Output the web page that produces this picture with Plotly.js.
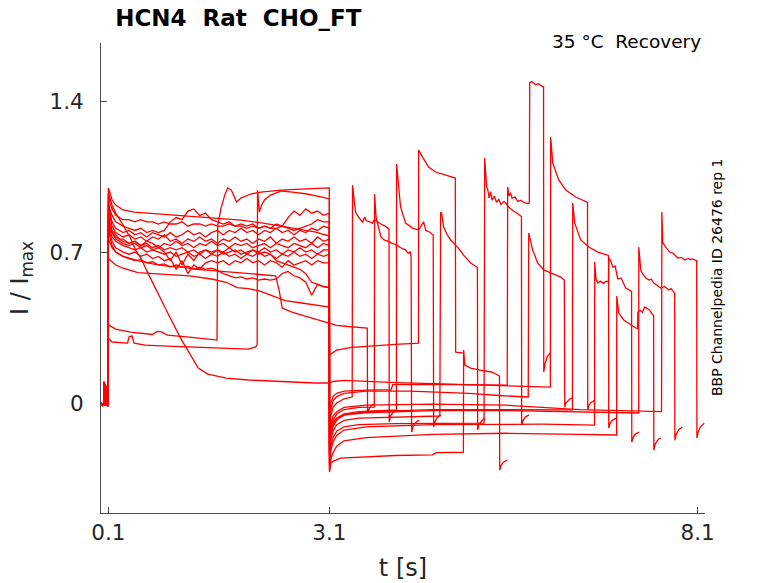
<!DOCTYPE html>
<html>
<head>
<meta charset="utf-8">
<script src="https://cdn.plot.ly/plotly-3.0.1.min.js"></script>
<style>
  html, body { margin: 0; padding: 0; background: #fff; }
  #chart { width: 778px; height: 583px; }
</style>
</head>
<body>
<div id="chart"></div>
<script>
// ---------- tick labels ----------
const xTickVals = [0.1, 3.1, 8.1];
const xTickText = ['0.1', '3.1', '8.1'];
const yTickVals = [0, 0.7, 1.4];
const yTickText = ['0', '0.7', '1.4'];

// ---------- holding segment before the first step ----------
const preT = [0, 0.02, 0.035, 0.04, 0.05, 0.055, 0.065, 0.07, 0.08, 0.098];
const preFlat = [0, -0.01, 0, -0.005, 0, -0.01, 0, -0.005, -0.01, -0.01];
const preSpike = [0, -0.01, 0, 0.1, -0.01, 0.09, -0.01, 0.08, -0.01, -0.015];

// ---------- first pulse (0.1 - 3.1 s), shared time grid ----------
const p1T = [0.1, 0.12, 0.15, 0.2, 0.25, 0.3, 0.38, 0.46, 0.54, 0.62, 0.7, 0.78, 0.86, 0.94, 1.02,
  1.1, 1.18, 1.26, 1.34, 1.42, 1.5, 1.58, 1.66, 1.74, 1.82, 1.9, 1.98, 2.06, 2.14, 2.22, 2.3, 2.38,
  2.46, 2.54, 2.62, 2.7, 2.78, 2.86, 2.94, 3.02, 3.1];
const p1G = [0.93, 0.90, 0.87, 0.84, 0.83, 0.82, 0.81, 0.80, 0.81, 0.79, 0.80, 0.79, 0.80, 0.84, 0.86,
  0.85, 0.89, 0.90, 0.87, 0.88, 0.85, 0.84, 0.83, 0.84, 0.82, 0.83, 0.82, 0.83, 0.81, 0.82, 0.81, 0.83,
  0.82, 0.86, 0.89, 0.87, 0.90, 0.88, 0.89, 0.87, 0.88];
const p1A = [0.97, 0.93, 0.90, 0.87, 0.86, 0.85, 0.85, 0.84, 0.85, 0.84, 0.84, 0.83, 0.84, 0.83, 0.83,
  0.84, 0.82, 0.83, 0.83, 0.82, 0.83, 0.82, 0.82, 0.83, 0.82, 0.82, 0.81, 0.82, 0.81, 0.82, 0.81, 0.81,
  0.82, 0.81, 0.80, 0.81, 0.82, 0.83, 0.85, 0.84, 0.84];
const p1H = [0.92, 0.88, 0.84, 0.81, 0.80, 0.79, 0.80, 0.78, 0.79, 0.77, 0.79, 0.78, 0.77, 0.79, 0.77,
  0.78, 0.80, 0.78, 0.79, 0.77, 0.79, 0.80, 0.78, 0.80, 0.79, 0.81, 0.79, 0.80, 0.78, 0.80, 0.79, 0.81,
  0.79, 0.80, 0.78, 0.80, 0.79, 0.81, 0.80, 0.82, 0.81];
const p1C = [0.90, 0.86, 0.82, 0.79, 0.78, 0.77, 0.78, 0.76, 0.77, 0.75, 0.77, 0.76, 0.78, 0.75, 0.76,
  0.74, 0.76, 0.75, 0.77, 0.75, 0.76, 0.74, 0.76, 0.75, 0.77, 0.75, 0.76, 0.74, 0.76, 0.75, 0.77, 0.74,
  0.76, 0.75, 0.77, 0.75, 0.76, 0.74, 0.77, 0.75, 0.76];
const p1J = [0.88, 0.84, 0.80, 0.78, 0.76, 0.76, 0.74, 0.75, 0.73, 0.75, 0.74, 0.72, 0.74, 0.73, 0.75,
  0.73, 0.74, 0.72, 0.74, 0.73, 0.75, 0.73, 0.74, 0.72, 0.74, 0.73, 0.74, 0.72, 0.73, 0.74, 0.72, 0.74,
  0.73, 0.72, 0.74, 0.73, 0.72, 0.74, 0.72, 0.74, 0.73];
const p1X = [0.86, 0.82, 0.79, 0.76, 0.75, 0.74, 0.73, 0.74, 0.72, 0.73, 0.71, 0.72, 0.70, 0.66, 0.70,
  0.64, 0.69, 0.66, 0.70, 0.71, 0.69, 0.71, 0.70, 0.72, 0.70, 0.71, 0.69, 0.71, 0.70, 0.72, 0.70, 0.71,
  0.69, 0.71, 0.70, 0.72, 0.70, 0.71, 0.69, 0.71, 0.71];
const p1K = [0.85, 0.80, 0.77, 0.75, 0.74, 0.73, 0.72, 0.71, 0.72, 0.70, 0.71, 0.70, 0.69, 0.70, 0.68,
  0.69, 0.70, 0.68, 0.69, 0.67, 0.69, 0.68, 0.70, 0.68, 0.69, 0.67, 0.69, 0.68, 0.70, 0.68, 0.69, 0.67,
  0.69, 0.68, 0.70, 0.68, 0.69, 0.67, 0.69, 0.68, 0.69];
const p1L = [0.84, 0.79, 0.75, 0.72, 0.71, 0.70, 0.69, 0.70, 0.68, 0.69, 0.67, 0.68, 0.66, 0.67, 0.62,
  0.66, 0.60, 0.64, 0.62, 0.65, 0.66, 0.65, 0.66, 0.64, 0.66, 0.65, 0.67, 0.65, 0.66, 0.64, 0.66, 0.65,
  0.63, 0.66, 0.64, 0.65, 0.66, 0.64, 0.66, 0.65, 0.65];
const p1M = [0.86, 0.82, 0.79, 0.77, 0.76, 0.75, 0.74, 0.75, 0.73, 0.74, 0.72, 0.73, 0.71, 0.72, 0.71,
  0.72, 0.70, 0.71, 0.69, 0.71, 0.70, 0.71, 0.69, 0.70, 0.71, 0.69, 0.70, 0.71, 0.69, 0.70, 0.69, 0.66,
  0.65, 0.64, 0.63, 0.62, 0.60, 0.56, 0.55, 0.54, 0.535];
const p1N = [0.82, 0.77, 0.73, 0.70, 0.69, 0.68, 0.67, 0.66, 0.665, 0.65, 0.655, 0.64, 0.645, 0.63, 0.64,
  0.63, 0.635, 0.62, 0.63, 0.62, 0.625, 0.615, 0.60, 0.59, 0.58, 0.585, 0.575, 0.58, 0.57, 0.575, 0.57, 0.575,
  0.60, 0.61, 0.59, 0.58, 0.56, 0.50, 0.55, 0.54, 0.535];

// ---------- first pulse, sweeps with their own time points ----------
const p1tE = [0.1, 0.13, 0.15, 0.2, 0.3, 0.45, 0.6, 0.8, 1.0, 1.35, 1.6, 1.9, 2.2, 2.45, 2.7, 2.9, 3.1];
const p1iE = [0.997, 0.965, 0.941, 0.918, 0.895, 0.885, 0.881, 0.876, 0.872, 0.862, 0.853, 0.848, 0.834, 0.820, 0.806, 0.793, 0.774];
const p1tB = [0.1, 0.2, 0.4, 0.7, 0.76, 0.82, 0.9, 1.2, 1.45, 1.575, 1.585, 1.63, 1.68, 1.72, 1.77, 1.81, 1.84, 1.9, 2.03, 2.17, 2.44, 2.71, 3.1];
const p1iB = [0.362, 0.343, 0.329, 0.318, 0.332, 0.33, 0.315, 0.306, 0.297, 0.292, 0.825, 0.904, 0.964, 0.997, 0.987, 0.955, 0.932, 0.950, 0.969, 0.978, 0.987, 0.992, 0.997];
const p1tF = [0.1, 0.15, 0.3, 0.36, 0.38, 0.42, 0.45, 0.6, 0.9, 1.3, 1.7, 2.0, 2.1, 2.12, 2.125, 2.15, 2.18, 2.22, 2.3, 2.45, 2.6, 2.8, 3.0, 3.1];
const p1iF = [0.301, 0.283, 0.278, 0.278, 0.306, 0.311, 0.278, 0.269, 0.264, 0.26, 0.255, 0.25, 0.26, 0.27, 0.987, 0.885, 0.918, 0.941, 0.964, 0.983, 0.978, 0.969, 0.955, 0.946];
const p1tI = [0.1, 0.15, 0.2, 0.3, 0.4, 0.47, 0.54, 0.65, 0.8, 0.94, 1.08, 1.19, 1.32, 1.45, 1.7, 2.0, 2.3, 2.6, 2.9, 3.1];
const p1iI = [0.974, 0.918, 0.881, 0.825, 0.765, 0.709, 0.672, 0.593, 0.487, 0.394, 0.301, 0.236, 0.162, 0.134, 0.116, 0.107, 0.102, 0.097, 0.093, 0.093];
const p1tZ = [0.1, 0.15, 0.2, 0.3, 0.5, 0.7, 0.9, 1.1, 1.3, 1.5, 1.7, 1.9, 2.1, 2.3, 2.37, 2.42, 2.46, 2.6, 2.8, 3.0, 3.1];
const p1iZ = [0.76, 0.72, 0.70, 0.68, 0.66, 0.645, 0.635, 0.63, 0.62, 0.615, 0.61, 0.605, 0.60, 0.595, 0.59, 0.52, 0.44, 0.42, 0.40, 0.38, 0.37];
const p1tD = [0.1, 0.2, 0.3, 0.5, 0.7, 1.0, 1.2, 1.5, 1.7, 1.85, 2.0, 2.15, 2.3, 2.5, 2.7, 2.9, 3.1];
const p1iD = [0.67, 0.64, 0.625, 0.605, 0.60, 0.595, 0.59, 0.575, 0.56, 0.535, 0.53, 0.52, 0.50, 0.475, 0.465, 0.455, 0.445];

// ---------- after 3.1 s: interval, second pulse, tail ----------
const postTZ = [3.2, 3.35, 3.5, 3.615, 3.619, 3.64, 3.67, 3.7, 3.72];
const postIZ = [0.36, 0.355, 0.35, 0.347, -0.046, -0.025, -0.012, -0.005, -0.002];
const postTA = [3.102, 3.12, 3.15, 3.2, 3.3, 3.41, 3.415, 3.44, 3.456, 3.5, 3.551, 3.58, 3.6, 3.65, 3.687, 3.71, 3.75, 3.8, 3.86, 3.91, 3.913, 3.93, 3.96, 4.0, 4.02];
const postIA = [-0.16, -0.06, -0.02, 0.0, 0.02, 0.028, 1.011, 0.93, 0.885, 0.86, 0.839, 0.862, 0.845, 0.84, 0.834, 0.85, 0.84, 0.83, 0.82, 0.806, -0.088, -0.06, -0.045, -0.035, -0.032];
const postTB = [3.102, 3.12, 3.15, 3.2, 3.3, 3.5, 3.71, 3.714, 3.735, 3.755, 3.8, 3.85, 3.904, 3.95, 4.0, 4.07, 4.13, 4.17, 4.2, 4.21, 4.217, 4.235, 4.26, 4.29, 4.317];
const postIB = [-0.2, -0.12, -0.08, -0.05, -0.03, -0.02, -0.019, 0.969, 0.86, 0.834, 0.77, 0.755, 0.75, 0.74, 0.735, 0.72, 0.71, 0.695, 0.70, 0.675, -0.134, -0.11, -0.095, -0.085, -0.08];
const postTC = [3.102, 3.12, 3.15, 3.2, 3.3, 3.5, 3.8, 4.01, 4.013, 4.04, 4.067, 4.135, 4.23, 4.312, 4.38, 4.41, 4.45, 4.51, 4.516, 4.535, 4.56, 4.59, 4.616];
const postIC = [-0.22, -0.14, -0.10, -0.07, -0.05, -0.04, -0.035, -0.032, 1.108, 0.988, 0.909, 0.834, 0.811, 0.802, 0.84, 0.80, 0.795, 0.779, -0.111, -0.085, -0.07, -0.06, -0.056];
const postTD = [3.102, 3.2, 3.4, 3.7, 4.0, 4.31, 4.312, 4.366, 4.448, 4.543, 4.679, 4.747, 4.81, 4.815, 4.86, 4.91];
const postID = [0.223, 0.245, 0.258, 0.266, 0.272, 0.278, 1.173, 1.14, 1.094, 1.071, 1.057, 1.048, 1.043, 0.236, 0.234, 0.232];
const postTE = [3.102, 3.12, 3.15, 3.2, 3.3, 3.5, 4.0, 4.6, 4.611, 4.625, 4.652, 4.7, 4.747, 4.842, 4.923, 5.018, 5.1, 5.11, 5.114, 5.13, 5.16, 5.19, 5.214];
const postIE = [-0.25, -0.17, -0.13, -0.10, -0.08, -0.07, -0.065, -0.06, 0.885, 0.88, 0.816, 0.78, 0.756, 0.723, 0.686, 0.649, 0.631, 0.628, -0.125, -0.1, -0.085, -0.075, -0.07];
const postTX = [3.102, 3.12, 3.15, 3.25, 3.5, 4.0, 4.5, 4.55, 4.92, 4.923, 4.94, 5.018, 5.15, 5.3, 5.4, 5.41, 5.413, 5.43, 5.46, 5.49, 5.513];
const postIX = [-0.32, -0.28, -0.27, -0.255, -0.25, -0.243, -0.24, -0.23, -0.228, 0.246, 0.176, 0.162, 0.153, 0.144, 0.128, 0.125, -0.311, -0.29, -0.275, -0.267, -0.264];
const postTF = [3.102, 3.12, 3.15, 3.2, 3.3, 3.5, 4.0, 4.5, 5.2, 5.209, 5.236, 5.25, 5.27, 5.29, 5.31, 5.34, 5.37, 5.40, 5.43, 5.47, 5.50, 5.53, 5.56, 5.6, 5.65, 5.69, 5.708, 5.711, 5.73, 5.76, 5.79, 5.811];
const postIF = [-0.28, -0.2, -0.16, -0.13, -0.11, -0.10, -0.095, -0.094, -0.093, 1.136, 1.001, 0.99, 0.95, 0.98, 0.94, 0.96, 0.93, 0.945, 0.92, 0.935, 0.925, 0.91, 0.90, 0.89, 0.88, 0.87, 0.865, -0.102, -0.08, -0.065, -0.058, -0.055];
const postTG = [3.102, 3.12, 3.15, 3.2, 3.3, 3.6, 3.94, 3.96, 4.5, 5.0, 5.515, 5.521, 5.54, 5.56, 5.58, 5.62, 5.66, 5.70, 5.74, 5.79, 5.815, 5.82, 5.85, 5.9, 5.94, 5.98, 6.008, 6.011, 6.03, 6.06, 6.1];
const postIG = [-0.06, 0.0, 0.03, 0.045, 0.055, 0.06, 0.062, 0.085, 0.087, 0.085, 0.083, 1.001, 0.96, 0.975, 0.95, 0.955, 0.935, 0.94, 0.93, 0.925, 0.927, 1.484, 1.49, 1.475, 1.48, 1.47, 1.465, 0.144, 0.185, 0.215, 0.232];
const postTH = [3.102, 3.12, 3.15, 3.2, 3.3, 3.6, 4.2, 4.6, 5.0, 5.4, 5.8, 5.807, 5.861, 5.929, 6.011, 6.105, 6.241, 6.29, 6.296, 6.31, 6.34, 6.37, 6.396];
const postIH = [-0.1, -0.03, 0.01, 0.03, 0.045, 0.055, 0.055, 0.05, 0.045, 0.035, 0.028, 0.788, 0.709, 0.649, 0.617, 0.603, 0.584, 0.57, -0.019, 0.0, 0.012, 0.02, 0.023];
const postTI = [3.15, 3.3, 3.6, 4.0, 4.5, 5.0, 5.5, 6.0, 6.1, 6.105, 6.133, 6.214, 6.309, 6.445, 6.6, 6.605, 6.608, 6.625, 6.65, 6.68, 6.708];
const postII = [0.10, 0.105, 0.10, 0.095, 0.09, 0.085, 0.08, 0.076, 0.074, 1.233, 1.113, 1.034, 0.987, 0.955, 0.932, 0.93, -0.032, -0.01, 0.002, 0.01, 0.014];
const postTJ = [3.102, 3.12, 3.15, 3.2, 3.3, 3.6, 4.5, 5.5, 6.4, 6.404, 6.432, 6.513, 6.622, 6.744, 6.88, 6.89, 6.893, 6.91, 6.94, 6.97, 6.993];
const postIJ = [-0.23, -0.15, -0.11, -0.08, -0.055, -0.04, -0.03, -0.03, -0.032, 0.927, 0.834, 0.756, 0.723, 0.70, 0.686, 0.684, -0.116, -0.095, -0.08, -0.072, -0.07];
const postTK = [3.102, 3.12, 3.15, 3.2, 3.3, 3.6, 4.5, 5.5, 6.0, 6.7, 6.703, 6.72, 6.744, 6.78, 6.82, 6.86, 6.89, 6.895, 6.92, 6.95, 6.98, 7.016, 7.06, 7.124, 7.19, 7.203, 7.206, 7.225, 7.25, 7.28, 7.306];
const postIK = [-0.29, -0.22, -0.18, -0.15, -0.125, -0.11, -0.10, -0.10, -0.098, -0.102, 0.654, 0.575, 0.556, 0.565, 0.555, 0.565, 0.562, 0.672, 0.66, 0.63, 0.635, 0.575, 0.58, 0.533, 0.52, 0.518, -0.181, -0.16, -0.145, -0.137, -0.134];
const postTL = [3.102, 3.12, 3.15, 3.2, 3.3, 3.6, 4.5, 5.5, 6.5, 7.0, 7.002, 7.029, 7.097, 7.192, 7.26, 7.285, 7.288, 7.32, 7.35, 7.38, 7.41, 7.45, 7.49, 7.502, 7.505, 7.525, 7.55, 7.58, 7.605];
const postIL = [-0.31, -0.26, -0.23, -0.2, -0.175, -0.16, -0.145, -0.14, -0.145, -0.148, 0.496, 0.417, 0.385, 0.362, 0.348, 0.345, 0.422, 0.43, 0.42, 0.445, 0.44, 0.43, 0.41, 0.405, -0.218, -0.19, -0.175, -0.165, -0.162];
const postTM = [3.102, 3.12, 3.15, 3.2, 3.3, 3.6, 4.5, 5.5, 6.5, 7.3, 7.301, 7.328, 7.36, 7.396, 7.44, 7.47, 7.505, 7.55, 7.6, 7.65, 7.709, 7.74, 7.777, 7.788, 7.791, 7.81, 7.84, 7.87, 7.891];
const postIM = [-0.2, -0.12, -0.09, -0.07, -0.055, -0.045, -0.035, -0.035, -0.04, -0.046, 0.723, 0.617, 0.595, 0.58, 0.57, 0.575, 0.556, 0.545, 0.533, 0.54, 0.524, 0.53, 0.51, 0.508, -0.172, -0.145, -0.125, -0.115, -0.111];
const postTN = [3.102, 3.12, 3.15, 3.2, 3.3, 3.6, 4.5, 5.5, 6.5, 7.61, 7.614, 7.627, 7.668, 7.72, 7.763, 7.8, 7.832, 7.88, 7.927, 7.97, 8.0, 8.03, 8.063, 8.087, 8.09, 8.11, 8.14, 8.17, 8.19];
const postIN = [-0.18, -0.10, -0.06, -0.04, -0.02, -0.01, -0.005, -0.01, -0.03, -0.04, 0.885, 0.742, 0.723, 0.70, 0.695, 0.68, 0.672, 0.675, 0.663, 0.67, 0.665, 0.668, 0.663, 0.66, -0.162, -0.13, -0.11, -0.098, -0.093];

// ---------- assemble sweeps ----------
const sweeps = [
  [preSpike, p1tZ, p1iZ, postTZ, postIZ],
  [preFlat, p1T, p1A, postTA, postIA],
  [preFlat, p1tB, p1iB, postTB, postIB],
  [preSpike, p1T, p1C, postTC, postIC],
  [preFlat, p1tD, p1iD, postTD, postID],
  [preFlat, p1tE, p1iE, postTE, postIE],
  [preFlat, p1T, p1X, postTX, postIX],
  [preFlat, p1tF, p1iF, postTF, postIF],
  [preFlat, p1T, p1G, postTG, postIG],
  [preSpike, p1T, p1H, postTH, postIH],
  [preFlat, p1tI, p1iI, postTI, postII],
  [preFlat, p1T, p1J, postTJ, postIJ],
  [preFlat, p1T, p1K, postTK, postIK],
  [preFlat, p1T, p1L, postTL, postIL],
  [preFlat, p1T, p1M, postTM, postIM],
  [preFlat, p1T, p1N, postTN, postIN]
];

const traces = sweeps.map(s => ({
  type: 'scatter',
  mode: 'lines',
  x: preT.concat(s[1], s[3]),
  y: s[0].concat(s[2], s[4]),
  line: { color: '#ff0000', width: 1.3 },
  hoverinfo: 'skip',
  showlegend: false
}));

const FONT = 'DejaVu Sans, Liberation Sans, sans-serif';
const layout = {
  width: 778,
  height: 583,
  margin: { l: 101, r: 73, t: 43, b: 70 },
  paper_bgcolor: '#ffffff',
  plot_bgcolor: '#ffffff',
  showlegend: false,
  title: {
    text: '<b>HCN4\u00a0\u00a0Rat\u00a0\u00a0CHO_FT</b>',
    font: { family: FONT, size: 23, color: '#000000' },
    xref: 'container', yref: 'container',
    x: 0.148, xanchor: 'left',
    y: 0.969, yanchor: 'middle'
  },
  xaxis: {
    range: [0, 8.2],
    tickmode: 'array', tickvals: xTickVals, ticktext: xTickText,
    ticks: 'inside', ticklen: 6, tickwidth: 1, tickcolor: '#4d4d4d',
    showline: true, linecolor: '#4d4d4d', linewidth: 1,
    showgrid: false, zeroline: false,
    tickfont: { family: FONT, size: 21.5, color: '#262626' },
    title: { text: 't [s]', font: { family: FONT, size: 24, color: '#262626' }, standoff: 15 }
  },
  yaxis: {
    range: [-0.5096, 1.669],
    tickmode: 'array', tickvals: yTickVals, ticktext: yTickText,
    ticks: 'inside', ticklen: 6, tickwidth: 1, tickcolor: '#4d4d4d',
    showline: true, linecolor: '#4d4d4d', linewidth: 1,
    showgrid: false, zeroline: false,
    ticklabelstandoff: 12,
    tickfont: { family: FONT, size: 21.5, color: '#262626' },
    title: { text: 'I / I<sub>max</sub>', font: { family: FONT, size: 24, color: '#262626' }, standoff: 14 }
  },
  annotations: [
    {
      text: '35 °C\u00a0\u00a0Recovery',
      xref: 'paper', yref: 'paper', x: 0.9967, y: 1.004,
      xanchor: 'right', yanchor: 'middle', showarrow: false,
      font: { family: FONT, size: 18.5, color: '#000000' }
    },
    {
      text: 'BBP Channelpedia ID 26476 rep 1',
      xref: 'paper', yref: 'paper', x: 1.0199, y: 0.502,
      xanchor: 'center', yanchor: 'middle', showarrow: false, textangle: -90,
      font: { family: FONT, size: 14, color: '#000000' }
    }
  ]
};

Plotly.newPlot('chart', traces, layout, { staticPlot: true, displayModeBar: false });
</script>
</body>
</html>
